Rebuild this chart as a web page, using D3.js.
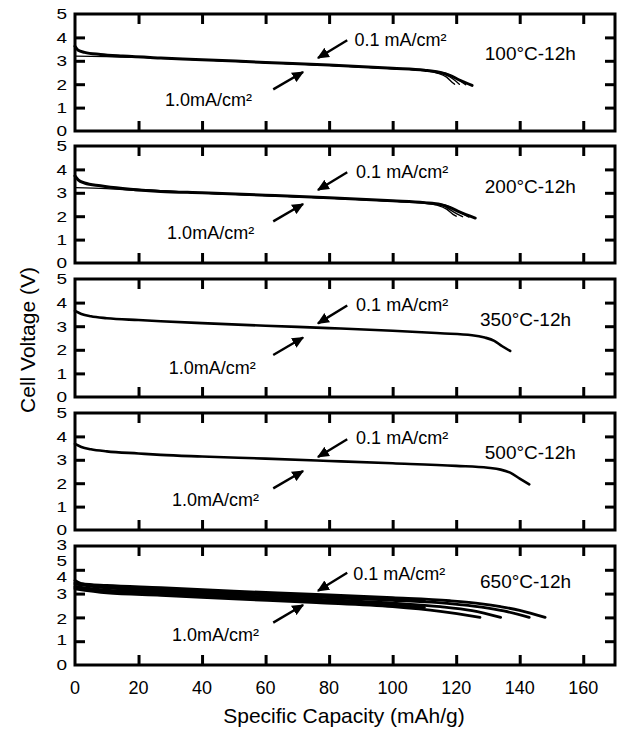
<!DOCTYPE html>
<html>
<head>
<meta charset="utf-8">
<script src="https://cdn.jsdelivr.net/npm/d3@7"></script>
<style>
  body { margin: 0; background: #fff; }
  svg { font-family: "Liberation Sans", Arial, sans-serif; }
  .frame { fill: none; stroke: #000; stroke-width: 3; }
  .axis path { display: none; }
  .axis line { stroke: #000; stroke-width: 3; }
  .curve { fill: none; stroke: #000; stroke-linecap: round; stroke-linejoin: round; }
</style>
</head>
<body>
<div class="container"></div>
<script>
const WIDTH = 621;
const HEIGHT = 730;
const LEFT = 75;
const RIGHT = 615;
// panel frames, top and bottom in px
const PANEL_TOP = [14, 146, 279, 413, 546];
const PANEL_BOTTOM = [131, 263, 397, 530, 665];

// data
const panelLabels = ["100°C-12h", "200°C-12h", "350°C-12h", "500°C-12h", "650°C-12h"];
const xTicks = [0, 20, 40, 60, 80, 100, 120, 140, 160];
const yTicks = [0, 1, 2, 3, 4, 5];
// the last panel's scanned labels sit off their ticks
const lastPanelLabels = ["3", "5", "4", "3", "2", "1", "0"];
const lastPanelLabelAt = [5.05, 4.4, 3.7, 3.0, 1.95, 1.05, 0];

// [capacity, voltage] per curve; widths follow
const p1Curves = [
  [[0,3.62],[1,3.45],[3,3.36],[8,3.27],[15,3.2],[27,3.12],[40,3.05],[60,2.93],[80,2.82],[100,2.68],[110,2.6],[115,2.5],[118,2.38],[121,2.18],[125,1.95]],
  [[0,3.2],[10,3.18],[20,3.15],[27,3.11],[40,3.04],[60,2.92],[80,2.81],[100,2.67],[110,2.58],[114,2.48],[117,2.3],[119,2.05],[119.5,2.0]],
  [[15,3.19],[40,3.04],[80,2.81],[100,2.67],[112,2.57],[116,2.45],[119,2.22],[121,2.0]],
  [[15,3.19],[40,3.04],[80,2.81],[100,2.67],[113,2.56],[117,2.45],[120,2.25],[123,1.98]]
];
const p2Curves = [
  [[0,3.72],[1,3.55],[3,3.42],[8,3.3],[15,3.18],[27,3.06],[40,3.0],[60,2.9],[80,2.79],[100,2.66],[110,2.58],[115,2.5],[118,2.38],[121,2.18],[126,1.92]],
  [[0,3.22],[10,3.18],[20,3.1],[27,3.05],[40,2.99],[60,2.89],[80,2.78],[100,2.65],[110,2.56],[114,2.47],[117,2.3],[119,2.08],[120,2.0]],
  [[15,3.17],[40,2.99],[80,2.78],[100,2.65],[112,2.55],[116,2.44],[119,2.2],[122,1.98]],
  [[15,3.17],[40,2.99],[80,2.78],[100,2.65],[113,2.55],[117,2.45],[120,2.25],[124,1.96]]
];
const p3Curves = [
  [[0,3.65],[2,3.52],[5,3.42],[10,3.34],[20,3.26],[27,3.21],[40,3.13],[60,3.02],[80,2.92],[100,2.81],[115,2.7],[125,2.62],[129,2.52],[132,2.38],[134.5,2.15],[137,1.95]]
];
const p4Curves = [
  [[0,3.68],[2,3.55],[5,3.45],[10,3.36],[20,3.27],[27,3.21],[40,3.14],[60,3.05],[80,2.95],[100,2.85],[120,2.74],[130,2.66],[134,2.58],[137,2.45],[140,2.2],[143,1.95]]
];
const p5Curves = [
  [[0,3.55],[2,3.42],[10,3.34],[27,3.25],[50,3.1],[76,2.97],[100,2.83],[118,2.7],[128,2.57],[134,2.45],[140,2.3],[148,2.0]],
  [[0,3.45],[10,3.28],[27,3.19],[50,3.05],[76,2.91],[100,2.77],[110,2.7]],
  [[0,3.4],[10,3.24],[27,3.14],[50,3.0],[76,2.85],[100,2.72],[118,2.58],[128,2.43],[135,2.27],[143,2.0]],
  [[0,3.3],[10,3.14],[27,3.06],[50,2.92],[76,2.77],[100,2.6],[115,2.45],[125,2.28],[134,2.0]],
  [[0,3.25],[10,3.08],[27,2.99],[50,2.85],[76,2.69],[100,2.52],[110,2.42]],
  [[0,3.2],[10,3.03],[27,2.93],[50,2.78],[76,2.62],[100,2.45],[115,2.25],[127.5,2.0]]
];
const panelCurves = [p1Curves, p2Curves, p3Curves, p4Curves, p5Curves];
const curveWidths = [[3, 1.4, 1.4, 1.4], [3, 1.4, 1.4, 1.4], [2.6], [2.6], [2.8, 2.8, 2.8, 2.8, 2.8, 2.8]];

// annotation anchors in data units [capacity, voltage]
const tempLabelAt = [[129,3.33],[129,3.29],[127.5,3.29],[129,3.33],[127.5,3.5]];
const lowLabelAt = [[88,3.89],[88.5,3.89],[88.5,3.89],[88.5,3.93],[87.6,3.84]];
const highLabelAt = [[28.3,1.32],[29,1.28],[29.5,1.24],[30.5,1.28],[30.5,1.27]];
const lowArrow = [[85.7,3.88],[76.5,3.12]];
const highArrow = [[62.4,1.78],[71.8,2.52]];

var svg = d3.select(".container").append("svg")
    .attr("width", WIDTH)
    .attr("height", HEIGHT);

svg.append("defs").append("marker")
    .attr("id", "head")
    .attr("viewBox", "0 0 10 10")
    .attr("refX", 9).attr("refY", 5)
    .attr("markerWidth", 12).attr("markerHeight", 12)
    .attr("markerUnits", "userSpaceOnUse")
    .attr("orient", "auto")
  .append("path")
    .attr("d", "M0,0.5 L10,5 L0,9.5 Z")
    .attr("fill", "#000");

var x = d3.scaleLinear().domain([0, 170]).range([LEFT, RIGHT]);

panelCurves.forEach(function(curves, i){
    var top = PANEL_TOP[i], bottom = PANEL_BOTTOM[i];
    var y = d3.scaleLinear().domain([0, 5]).range([bottom, top]);
    var g = svg.append("g");

    g.append("g").attr("class", "axis")
        .attr("transform", "translate(0," + bottom + ")")
        .call(d3.axisBottom(x).tickValues(xTicks.slice(1)).tickSize(-10).tickFormat(""));
    g.append("g").attr("class", "axis")
        .attr("transform", "translate(0," + top + ")")
        .call(d3.axisTop(x).tickValues(xTicks.slice(1)).tickSize(-10).tickFormat(""));
    g.append("g").attr("class", "axis")
        .attr("transform", "translate(" + LEFT + ",0)")
        .call(d3.axisLeft(y).tickValues([1, 2, 3, 4]).tickSize(-10).tickFormat(""));
    g.append("g").attr("class", "axis")
        .attr("transform", "translate(" + RIGHT + ",0)")
        .call(d3.axisRight(y).tickValues([1, 2, 3, 4]).tickSize(-10).tickFormat(""));

    g.append("rect").attr("class", "frame")
        .attr("x", LEFT).attr("y", top)
        .attr("width", RIGHT - LEFT).attr("height", bottom - top);

    // y labels, squashed vertically like the scan
    var labs = i < 4 ? yTicks.map(function(v){ return [String(v), v]; })
                     : lastPanelLabels.map(function(s, k){ return [s, lastPanelLabelAt[k]]; });
    g.selectAll(".ylab").data(labs).enter().append("text")
        .attr("transform", function(d){ return "translate(67," + y(d[1]) + ") scale(1,0.8)"; })
        .attr("text-anchor", "end")
        .attr("dominant-baseline", "central")
        .attr("font-size", 19)
        .text(function(d){ return d[0]; });

    var line = d3.line()
        .x(function(d){ return x(d[0]); })
        .y(function(d){ return y(d[1]); })
        .curve(d3.curveMonotoneX);
    curves.forEach(function(c, k){
        g.append("path").attr("class", "curve")
            .attr("d", line(c))
            .attr("stroke-width", curveWidths[i][k]);
    });

    g.append("text")
        .attr("x", x(tempLabelAt[i][0])).attr("y", y(tempLabelAt[i][1]))
        .attr("dominant-baseline", "central")
        .attr("font-size", 19)
        .text(panelLabels[i]);
    g.append("text")
        .attr("x", x(lowLabelAt[i][0])).attr("y", y(lowLabelAt[i][1]))
        .attr("dominant-baseline", "central")
        .attr("font-size", 18)
        .text("0.1 mA/cm²");
    g.append("text")
        .attr("x", x(highLabelAt[i][0])).attr("y", y(highLabelAt[i][1]))
        .attr("dominant-baseline", "central")
        .attr("font-size", 18)
        .text("1.0mA/cm²");

    [lowArrow, highArrow].forEach(function(a){
        g.append("line")
            .attr("x1", x(a[0][0])).attr("y1", y(a[0][1]))
            .attr("x2", x(a[1][0])).attr("y2", y(a[1][1]))
            .attr("stroke", "#000").attr("stroke-width", 2.4)
            .attr("marker-end", "url(#head)");
    });
});

// x tick labels under the last panel
svg.selectAll(".xlab").data(xTicks).enter().append("text")
    .attr("x", function(d){ return x(d); })
    .attr("y", 688)
    .attr("text-anchor", "middle")
    .attr("dominant-baseline", "central")
    .attr("font-size", 18)
    .text(function(d){ return d; });

svg.append("text")
    .attr("x", 344).attr("y", 715)
    .attr("text-anchor", "middle")
    .attr("dominant-baseline", "central")
    .attr("font-size", 21)
    .text("Specific Capacity (mAh/g)");

svg.append("text")
    .attr("transform", "translate(27,340) rotate(-90)")
    .attr("text-anchor", "middle")
    .attr("dominant-baseline", "central")
    .attr("font-size", 21)
    .text("Cell Voltage (V)");
</script>
</body>
</html>
